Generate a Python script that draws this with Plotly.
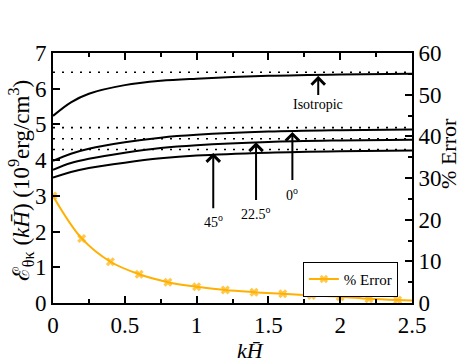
import plotly.graph_objects as go

# energy curves (10^9 erg/cm^3) vs kH
kh = [0, 0.125, 0.25, 0.5, 0.75, 1.0, 1.5, 2.0, 2.5]
iso = [5.24, 5.62, 5.86, 6.10, 6.22, 6.28, 6.36, 6.40, 6.42]
deg0 = [3.98, 4.18, 4.32, 4.50, 4.63, 4.71, 4.80, 4.84, 4.86]
deg22 = [3.73, 3.92, 4.04, 4.21, 4.34, 4.42, 4.51, 4.55, 4.57]
deg45 = [3.51, 3.67, 3.78, 3.93, 4.05, 4.13, 4.21, 4.25, 4.27]

# asymptotic levels (dotted)
limits = [6.46, 4.91, 4.60, 4.30]

# % error
kh_err = [0, 0.2, 0.4, 0.6, 0.8, 1.0, 1.2, 1.4, 1.6, 1.8, 2.0, 2.2, 2.4, 2.5]
err = [25.7, 15.5, 9.9, 6.9, 5.0, 3.9, 3.1, 2.6, 2.2, 1.8, 1.5, 1.0, 0.7, 0.6]

FONT = "Liberation Serif"
orange = "#FFB000"

fig = go.Figure()

for lv in limits:
    fig.add_trace(go.Scatter(x=[0, 2.5], y=[lv, lv], mode="lines", showlegend=False,
                             line=dict(color="black", width=1.6, dash="2px,7px")))

for ys in [iso, deg0, deg22, deg45]:
    fig.add_trace(go.Scatter(x=kh, y=ys, mode="lines", showlegend=False,
                             line=dict(color="black", width=2, shape="spline")))

fig.add_trace(go.Scatter(
    x=kh_err, y=err, yaxis="y2", mode="lines+markers", name="% Error",
    line=dict(color=orange, width=2, shape="spline"),
    marker=dict(symbol="x", size=[8] * 13 + [0], color=orange, line=dict(width=0)),
))

# arrows and labels
arrows = [
    # x, head, tail, text y, text
    (1.847, 6.36, 5.78, 5.55, "Isotropic"),
    (1.667, 4.79, 3.40, 3.06, "0<sup>o</sup>"),
    (1.414, 4.50, 2.84, 2.52, "22.5<sup>o</sup>"),
    (1.116, 4.20, 2.61, 2.30, "45<sup>o</sup>"),
]
for x, head, tail, ty, txt in arrows:
    fig.add_annotation(x=x, y=head, ax=x, ay=tail, axref="x", ayref="y",
                       text="", showarrow=True, arrowhead=4, arrowsize=1.3,
                       arrowwidth=2, arrowcolor="black")
    fig.add_annotation(x=x, y=ty, text=txt, showarrow=False,
                       font=dict(family=FONT, size=14, color="black"))

# axis titles
fig.add_annotation(xref="paper", yref="paper", x=-0.09, y=0.49, textangle=-90,
                   xanchor="center", yanchor="middle",
                   text="ℰ<sub>θκ</sub> (<i>kH̄</i>) (10<sup>9</sup>erg/cm<sup>3</sup>)",
                   showarrow=False, font=dict(family=FONT, size=23, color="black"))
fig.add_annotation(xref="paper", yref="paper", x=1.1, y=0.6, textangle=-90,
                   xanchor="center", yanchor="middle",
                   text="% Error", showarrow=False,
                   font=dict(family=FONT, size=22, color="black"))
fig.add_annotation(xref="paper", yref="paper", x=0.549, y=-0.19,
                   xanchor="center", yanchor="middle",
                   text="<i>kH̄</i>", showarrow=False,
                   font=dict(family=FONT, size=22, color="black"))

tick = dict(ticks="inside", ticklen=7, tickwidth=1.5, tickcolor="black",
            showline=True, linecolor="black", linewidth=2,
            showgrid=False, zeroline=False, automargin=False)

fig.update_layout(
    width=463, height=362,
    margin=dict(l=53, r=51, t=53, b=59),
    plot_bgcolor="white", paper_bgcolor="white",
    font=dict(family=FONT, size=23, color="black"),
    xaxis=dict(
        range=[0, 2.5], dtick=0.5, tickformat="~g", mirror="ticks",
        minor=dict(dtick=0.25, ticks="inside", ticklen=4, tickwidth=1.5, tickcolor="black"),
        **tick,
    ),
    yaxis=dict(range=[0, 7], dtick=1, **tick),
    yaxis2=dict(
        overlaying="y", side="right", range=[0, 60], dtick=10,
        minor=dict(dtick=5, ticks="inside", ticklen=4, tickwidth=1.5, tickcolor="black"),
        **tick,
    ),
    legend=dict(x=0.696, y=0.165, xanchor="left", yanchor="top",
                bgcolor="white", bordercolor="black", borderwidth=1,
                font=dict(family=FONT, size=15), itemwidth=30,
                tracegroupgap=0),
)

# drop the default page margin so the figure fills the window exactly
fig.write_html("out.html", config={"displayModeBar": False},
               post_script="document.body.style.margin='0';")
